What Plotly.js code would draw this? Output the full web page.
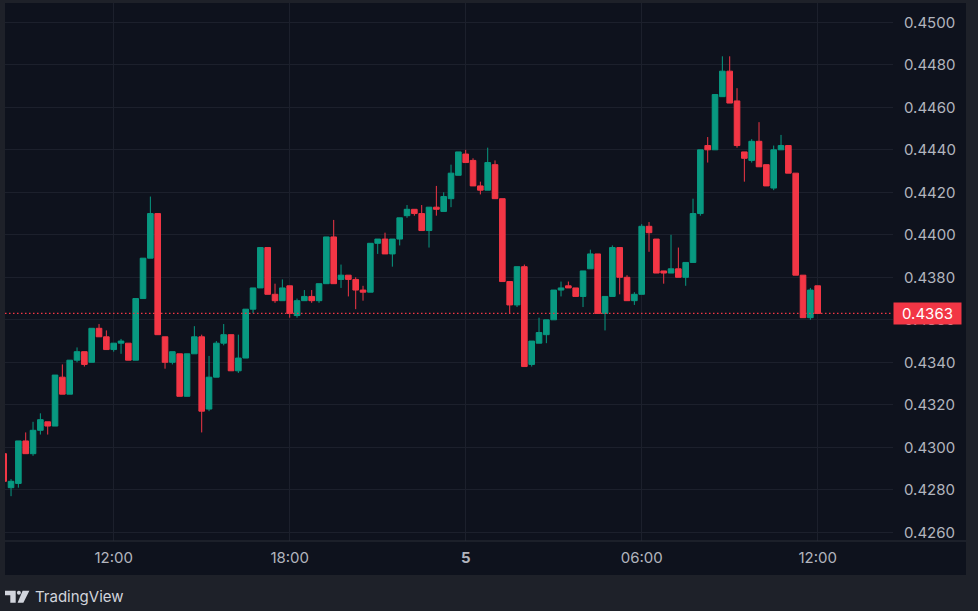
<!DOCTYPE html>
<html><head><meta charset="utf-8">
<script src="https://cdn.plot.ly/plotly-3.0.1.min.js"></script>
<style>html,body{margin:0;padding:0;background:#1e2129;}#chart{width:978px;height:611px;}</style>
</head><body><div id="chart"></div>
<script>
// ---- data: 15-minute candles from day 4 08:15 to day 5 12:00 ----
const startTime = Date.UTC(2025, 2, 4, 8, 15);
const stepMinutes = 15;

const open = [
0.4297,0.4281,0.4283,0.4303,0.4297,0.4308,0.4312,0.4310,0.4333,0.4325,
0.4341,0.4345,0.4340,0.4356,0.4352,0.4346,0.4349,0.4349,0.4341,0.4370,
0.4389,0.4410,0.4352,0.4340,0.4344,0.4324,0.4344,0.4352,0.4318,0.4333,
0.4349,0.4353,0.4336,0.4342,0.4365,0.4375,0.4394,0.4372,0.4369,0.4376,
0.4362,0.4369,0.4371,0.4369,0.4377,0.4399,0.4379,0.4381,0.4379,0.4374,
0.4373,0.4396,0.4398,0.4391,0.4398,0.4409,0.4412,0.4410,0.4402,0.4413,
0.4411,0.4417,0.4428,0.4438,0.4435,0.4423,0.4421,0.4433,0.4417,0.4378,
0.4367,0.4385,0.4339,0.4349,0.4353,0.4360,0.4374,0.4376,0.4375,0.4371,
0.4384,0.4391,0.4363,0.4371,0.4394,0.4380,0.4369,0.4372,0.4404,0.4398,
0.4383,0.4382,0.4384,0.4380,0.4387,0.4410,0.4442,0.4440,0.4465,0.4477,
0.4463,0.4439,0.4435,0.4444,0.4433,0.4422,0.4440,0.4442,0.4429,0.4381,
0.4361,0.4376];
const high = [
0.4298,0.4285,0.4303,0.4307,0.4312,0.4316,0.4312,0.4334,0.4339,0.4341,
0.4347,0.4345,0.4356,0.4358,0.4355,0.4349,0.4351,0.4349,0.4370,0.4389,
0.4418,0.4410,0.4352,0.4345,0.4344,0.4344,0.4357,0.4353,0.4343,0.4350,
0.4358,0.4353,0.4353,0.4365,0.4375,0.4394,0.4394,0.4377,0.4379,0.4376,
0.4370,0.4374,0.4374,0.4377,0.4399,0.4407,0.4386,0.4381,0.4380,0.4376,
0.4396,0.4398,0.4401,0.4398,0.4408,0.4414,0.4412,0.4414,0.4413,0.4423,
0.4420,0.4433,0.4439,0.4440,0.4436,0.4425,0.4441,0.4435,0.4417,0.4378,
0.4385,0.4386,0.4350,0.4361,0.4360,0.4374,0.4378,0.4378,0.4375,0.4383,
0.4393,0.4391,0.4371,0.4395,0.4394,0.4381,0.4373,0.4405,0.4406,0.4398,
0.4383,0.4400,0.4394,0.4387,0.4417,0.4440,0.4446,0.4466,0.4484,0.4484,
0.4469,0.4439,0.4445,0.4453,0.4433,0.4442,0.4447,0.4442,0.4429,0.4381,
0.4375,0.4376];
const low = [
0.4283,0.4277,0.4281,0.4297,0.4296,0.4306,0.4306,0.4310,0.4325,0.4325,
0.4340,0.4338,0.4340,0.4352,0.4346,0.4345,0.4344,0.4341,0.4341,0.4370,
0.4389,0.4353,0.4337,0.4339,0.4324,0.4324,0.4344,0.4307,0.4317,0.4333,
0.4348,0.4336,0.4335,0.4342,0.4363,0.4375,0.4372,0.4368,0.4369,0.4361,
0.4361,0.4369,0.4368,0.4368,0.4377,0.4377,0.4375,0.4371,0.4365,0.4369,
0.4373,0.4391,0.4391,0.4385,0.4395,0.4408,0.4409,0.4402,0.4394,0.4409,
0.4411,0.4413,0.4428,0.4434,0.4423,0.4419,0.4421,0.4417,0.4378,0.4363,
0.4366,0.4338,0.4338,0.4349,0.4349,0.4360,0.4371,0.4375,0.4371,0.4366,
0.4384,0.4363,0.4355,0.4371,0.4372,0.4369,0.4367,0.4372,0.4392,0.4382,
0.4377,0.4382,0.4380,0.4376,0.4387,0.4409,0.4434,0.4440,0.4465,0.4462,
0.4441,0.4425,0.4434,0.4432,0.4423,0.4421,0.4440,0.4429,0.4381,0.4361,
0.4360,0.4363];
const close = [
0.4284,0.4284,0.4303,0.4297,0.4308,0.4313,0.4310,0.4334,0.4325,0.4341,
0.4345,0.4339,0.4356,0.4352,0.4346,0.4349,0.4350,0.4341,0.4370,0.4389,
0.4410,0.4353,0.4340,0.4345,0.4324,0.4344,0.4352,0.4317,0.4333,0.4349,
0.4353,0.4336,0.4342,0.4365,0.4375,0.4394,0.4372,0.4369,0.4375,0.4363,
0.4369,0.4371,0.4369,0.4377,0.4399,0.4377,0.4381,0.4379,0.4374,0.4373,
0.4396,0.4398,0.4391,0.4398,0.4408,0.4412,0.4410,0.4402,0.4413,0.4412,
0.4418,0.4429,0.4439,0.4434,0.4423,0.4421,0.4434,0.4417,0.4378,0.4367,
0.4385,0.4338,0.4350,0.4354,0.4360,0.4374,0.4375,0.4375,0.4371,0.4383,
0.4391,0.4363,0.4371,0.4394,0.4380,0.4369,0.4372,0.4404,0.4401,0.4382,
0.4382,0.4384,0.4380,0.4387,0.4410,0.4440,0.4440,0.4466,0.4477,0.4462,
0.4442,0.4436,0.4444,0.4432,0.4423,0.4440,0.4442,0.4429,0.4381,0.4361,
0.4374,0.4363];

const xTickVals = ['2025-03-04 12:00:00','2025-03-04 18:00:00','2025-03-05 00:00:00','2025-03-05 06:00:00','2025-03-05 12:00:00'];
const xTickText = ['12:00','18:00','<b>5</b>','06:00','12:00'];
const yTickVals = [0.426,0.428,0.430,0.432,0.434,0.436,0.438,0.440,0.442,0.444,0.446,0.448,0.450];
const lastPrice = 0.4363;
const brandText = 'TradingView';

// ---- build timestamps ----
function fmt(ms){ return new Date(ms).toISOString().slice(0,19).replace('T',' '); }
const times = open.map((_, i) => fmt(startTime + i*stepMinutes*60000));

// ---- geometry helpers (layout only) ----
const W = 978, H = 611, mL = 5, mR = 85, mT = 3, mB = 70;
const pw = W - mL - mR, ph = H - mT - mB;
const px = x => (x - mL) / pw;
const py = y => (H - mB - y) / ph;
const tick12 = Date.UTC(2025, 2, 4, 12, 0);
const pxPerHour = 29.333, tickPx = 113.7;
const xRange = [fmt(tick12 - (tickPx - mL)/pxPerHour*3600000), fmt(tick12 + (W - mR - tickPx)/pxPerHour*3600000)];
const yRange = [0.425591, 0.450908];

const axisFont = {family:'Inter, "Noto Sans", sans-serif', size:15, color:'#b2b5be'};
const grid = '#1c202c';
const green = '#089981', red = '#f23645';

const trace = {
  type:'candlestick', x:times, open:open, high:high, low:low, close:close,
  increasing:{line:{color:green, width:1}, fillcolor:green},
  decreasing:{line:{color:red, width:1}, fillcolor:red},
  whiskerwidth:0, hoverinfo:'skip', showlegend:false
};

const layout = {
  width:W, height:H,
  margin:{l:mL, r:mR, t:mT, b:mB, pad:0},
  paper_bgcolor:'#1e2129', plot_bgcolor:'#0e121d',
  boxgap:0.15, boxgroupgap:0.1,
  showlegend:false,
  xaxis:{type:'date', range:xRange, tickvals:xTickVals, ticktext:xTickText,
    showgrid:true, gridcolor:grid, gridwidth:1, zeroline:false, showline:false,
    ticks:'', tickfont:axisFont, ticklabelstandoff:6, rangeslider:{visible:false}, fixedrange:true},
  yaxis:{side:'right', range:yRange, tickvals:yTickVals, tickformat:'.4f',
    showgrid:true, gridcolor:grid, gridwidth:1, zeroline:false, showline:false,
    ticks:'', tickfont:axisFont, ticklabelstandoff:10, fixedrange:true},
  shapes:[
    {type:'rect', xref:'paper', yref:'paper', x0:px(5), x1:px(966), y0:py(575), y1:py(3),
     fillcolor:'#0e121d', line:{width:0}, layer:'below'},
    {type:'line', xref:'paper', yref:'paper', x0:px(5), x1:px(966), y0:py(541), y1:py(541),
     line:{color:'#2a2e39', width:1}},
    {type:'line', xref:'paper', yref:'y', x0:0, x1:1, y0:lastPrice, y1:lastPrice,
     line:{color:red, width:1.2, dash:'1.5px,2.5px'}},
    {type:'path', xref:'paper', yref:'paper',
     path:`M${px(5)},${py(590.7)} L${px(15.7)},${py(590.7)} L${px(15.7)},${py(602.7)} L${px(10.3)},${py(602.7)} L${px(10.3)},${py(595.3)} L${px(5)},${py(595.3)} Z`,
     fillcolor:'#d1d4dc', line:{width:0}},
    {type:'circle', xref:'paper', yref:'paper', x0:px(16.9), x1:px(20.9), y0:py(594.8), y1:py(590.8),
     fillcolor:'#d1d4dc', line:{width:0}},
    {type:'path', xref:'paper', yref:'paper',
     path:`M${px(22.6)},${py(590.7)} L${px(29.4)},${py(590.7)} L${px(23.4)},${py(602.7)} L${px(17.6)},${py(602.7)} Z`,
     fillcolor:'#d1d4dc', line:{width:0}}
  ],
  annotations:[
    {xref:'paper', yref:'y', x:px(893), y:lastPrice, xanchor:'left', yanchor:'middle',
     text:lastPrice.toFixed(4), showarrow:false, bgcolor:red, borderpad:0,
     width:67, height:21, align:'center',
     font:{family:axisFont.family, size:15, color:'#ffffff'}},
    {xref:'paper', yref:'paper', x:px(33), y:py(597), xanchor:'left', yanchor:'middle',
     text:brandText, showarrow:false,
     font:{family:'Inter, "Noto Sans", sans-serif', size:15, color:'#d1d4dc'}}
  ]
};

Plotly.newPlot('chart', [trace], layout, {displayModeBar:false, staticPlot:true});
</script>
</body></html>
